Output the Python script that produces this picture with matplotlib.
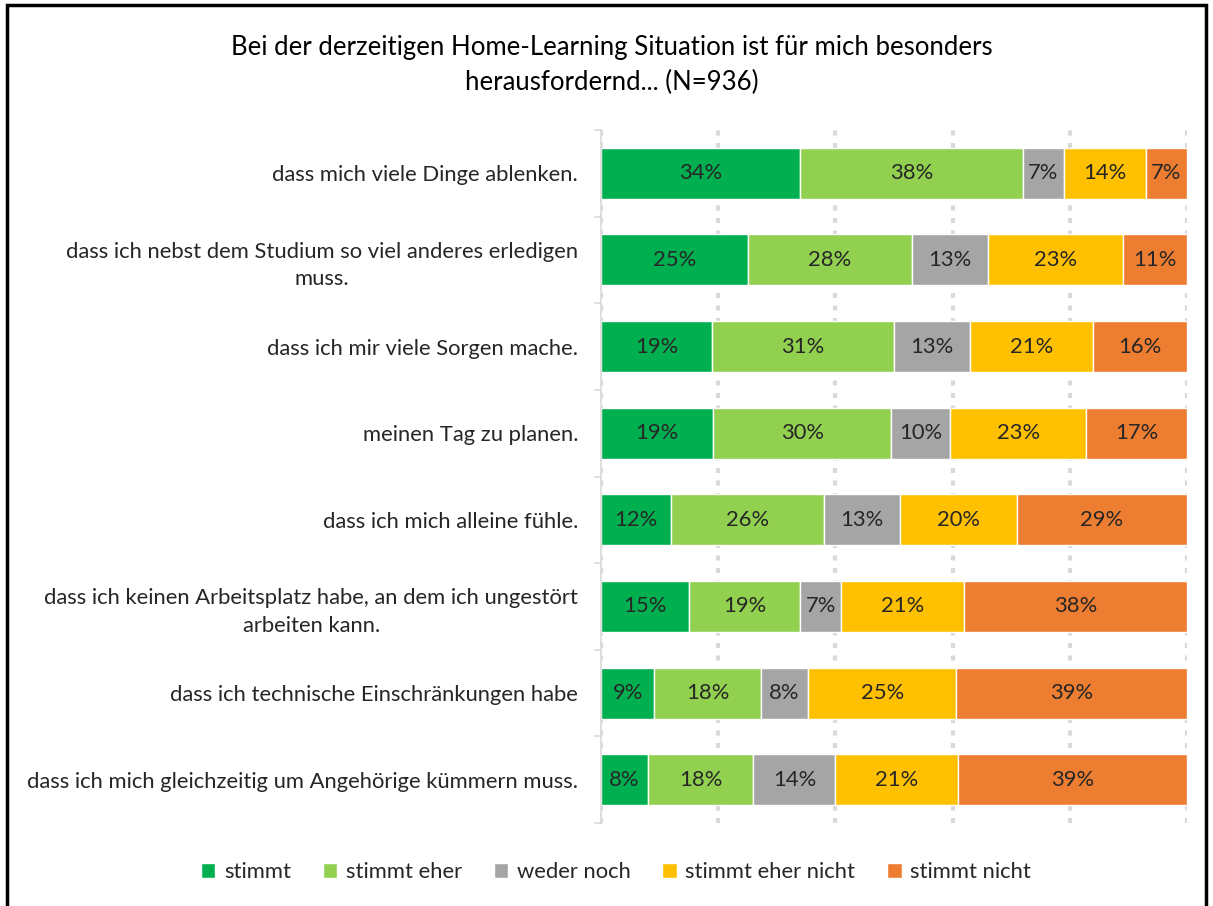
import matplotlib
matplotlib.use("Agg")
import matplotlib.pyplot as plt
import numpy as np
from matplotlib.patches import Rectangle

title = "Bei der derzeitigen Home-Learning Situation ist für mich besonders\nherausfordernd... (N=936)"
categories = [
    "dass mich viele Dinge ablenken.",
    "dass ich nebst dem Studium so viel anderes erledigen\nmuss.",
    "dass ich mir viele Sorgen mache.",
    "meinen Tag zu planen.",
    "dass ich mich alleine fühle.",
    "dass ich keinen Arbeitsplatz habe, an dem ich ungestört\narbeiten kann.",
    "dass ich technische Einschränkungen habe",
    "dass ich mich gleichzeitig um Angehörige kümmern muss.",
]
series_names = ["stimmt", "stimmt eher", "weder noch", "stimmt eher nicht", "stimmt nicht"]
stimmt = [34, 25, 19, 19, 12, 15, 9, 8]
stimmt_eher = [38, 28, 31, 30, 26, 19, 18, 18]
weder_noch = [7, 13, 13, 10, 13, 7, 8, 14]
stimmt_eher_nicht = [14, 23, 21, 23, 20, 21, 25, 21]
stimmt_nicht = [7, 11, 16, 17, 29, 38, 39, 39]
colors = ["#00B050", "#92D050", "#A5A5A5", "#FFC000", "#ED7D31"]

FONT = "Lato"
plt.rcParams["font.family"] = [FONT, "DejaVu Sans"]
FS = 15.8
TXT = "#262626"

fig = plt.figure(figsize=(12.13, 9.06), dpi=100)
ax = fig.add_axes([601/1213, 1-823/906, (1187-601)/1213, (823-130)/906])

data = np.array([stimmt, stimmt_eher, weder_noch, stimmt_eher_nicht, stimmt_nicht], dtype=float)
totals = data.sum(axis=0)
shares = data / totals * 100
y = np.arange(len(categories))
left = np.zeros(len(categories))
for i, name in enumerate(series_names):
    bars = ax.barh(y, shares[i], left=left, height=0.59, color=colors[i],
                   edgecolor="white", linewidth=1.0, label=name, zorder=3)
    ax.bar_label(bars, labels=[f"{int(v)}%" for v in data[i]], label_type="center",
                 fontsize=FS, color=TXT)
    left += shares[i]

ax.set_xlim(0, 100)
ax.set_ylim(len(categories) - 0.5, -0.5)
ax.set_xticks([0, 20, 40, 60, 80, 100])
ax.tick_params(axis="x", length=0, labelbottom=False)
ax.grid(axis="x", color="#D9D9D9", linestyle=(0, (1.2, 1.8)), linewidth=3, zorder=0)
for s in ["top", "right", "bottom"]:
    ax.spines[s].set_visible(False)
ax.spines["left"].set_color("#D9D9D9")
ax.spines["left"].set_linewidth(1.2)
ax.spines["left"].set_zorder(4)

ax.set_yticks(y)
ax.set_yticklabels(categories, fontsize=FS, color=TXT, multialignment="center",
                   linespacing=1.45)
ax.tick_params(axis="y", which="major", length=0, pad=16.5)
ax.set_yticks(np.arange(-0.5, len(categories) + 0.5, 1), minor=True)
ax.tick_params(axis="y", which="minor", length=5, color="#D9D9D9", width=1.2)

fig.text(612/1213, 1-65/906, title, ha="center", va="center", fontsize=18.5,
         color="black", linespacing=1.5)

handles, labels = ax.get_legend_handles_labels()
leg = fig.legend(handles, labels, loc="center", bbox_to_anchor=(616/1213, 1-872/906),
                 ncol=5, frameon=False, fontsize=FS, handlelength=0.65, handleheight=0.65,
                 handletextpad=0.4, columnspacing=1.45)
for t in leg.get_texts():
    t.set_color(TXT)

fig.patches.append(Rectangle((7/1213, -0.05), (1206-7)/1213, 1.0 + 0.05 - 5/906,
                             transform=fig.transFigure, fill=False, edgecolor="black",
                             linewidth=2.5))

fig.savefig("out.png", dpi=100)
